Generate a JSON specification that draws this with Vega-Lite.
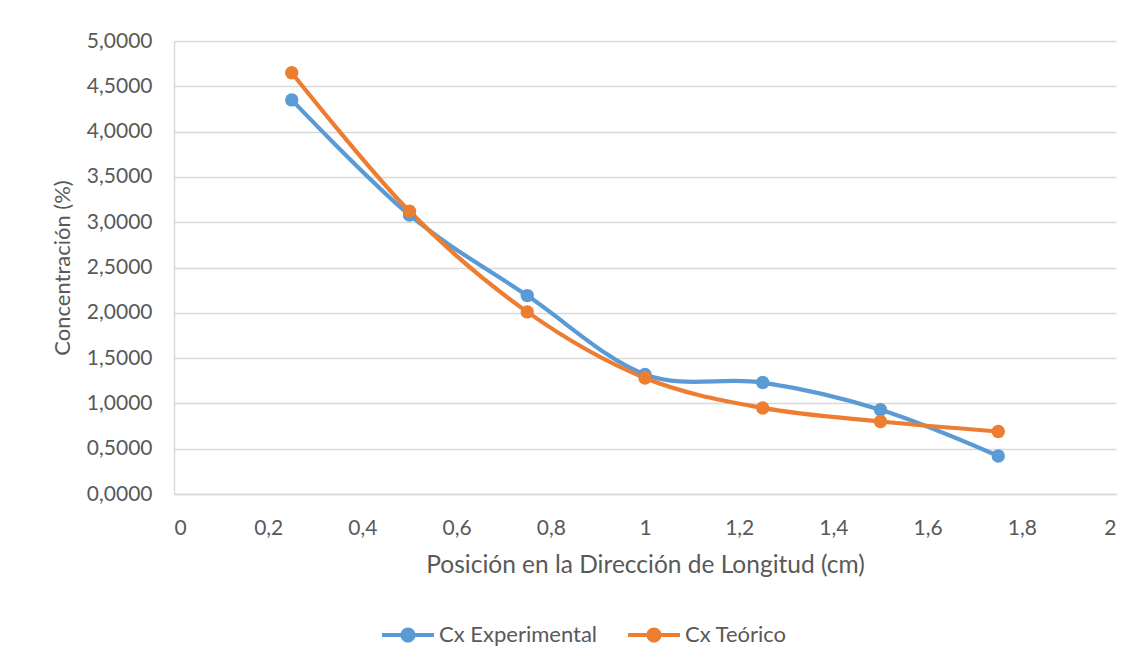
{
  "$schema": "https://vega.github.io/schema/vega-lite/v6.json",
  "autosize": "none",
  "width": 942,
  "height": 453,
  "padding": {"left": 174, "top": 41, "right": 25, "bottom": 175},
  "background": "white",
  "data": {
    "values": [
      {"pos": 0.25, "conc": 4.35, "serie": "Cx Experimental"},
      {"pos": 0.5, "conc": 3.08, "serie": "Cx Experimental"},
      {"pos": 0.75, "conc": 2.19, "serie": "Cx Experimental"},
      {"pos": 1.0, "conc": 1.32, "serie": "Cx Experimental"},
      {"pos": 1.25, "conc": 1.23, "serie": "Cx Experimental"},
      {"pos": 1.5, "conc": 0.93, "serie": "Cx Experimental"},
      {"pos": 1.75, "conc": 0.42, "serie": "Cx Experimental"},
      {"pos": 0.25, "conc": 4.65, "serie": "Cx Teórico"},
      {"pos": 0.5, "conc": 3.12, "serie": "Cx Teórico"},
      {"pos": 0.75, "conc": 2.01, "serie": "Cx Teórico"},
      {"pos": 1.0, "conc": 1.28, "serie": "Cx Teórico"},
      {"pos": 1.25, "conc": 0.95, "serie": "Cx Teórico"},
      {"pos": 1.5, "conc": 0.8, "serie": "Cx Teórico"},
      {"pos": 1.75, "conc": 0.69, "serie": "Cx Teórico"}
    ]
  },
  "encoding": {
    "x": {
      "field": "pos",
      "type": "quantitative",
      "scale": {"domain": [0, 2], "nice": false},
      "axis": {
        "title": "Posición en la Dirección de Longitud (cm)",
        "values": [0, 0.2, 0.4, 0.6, 0.8, 1, 1.2, 1.4, 1.6, 1.8, 2],
        "labelExpr": "replace(format(datum.value, '.1~f'), '.', ',')",
        "grid": false,
        "ticks": false,
        "labelPadding": 23,
        "titlePadding": 15,
        "titleFontSize": 24.5
      }
    },
    "y": {
      "field": "conc",
      "type": "quantitative",
      "scale": {"domain": [0, 5], "nice": false},
      "axis": {
        "title": "Concentración (%)",
        "values": [0, 0.5, 1, 1.5, 2, 2.5, 3, 3.5, 4, 4.5, 5],
        "labelExpr": "replace(format(datum.value, '.4f'), '.', ',')",
        "grid": true,
        "ticks": false,
        "labelPadding": 22,
        "titlePadding": 12,
        "titleFontSize": 22
      }
    },
    "color": {
      "field": "serie",
      "type": "nominal",
      "scale": {"domain": ["Cx Experimental", "Cx Teórico"], "range": ["#5B9BD5", "#ED7D31"]},
      "legend": {
        "title": null,
        "orient": "none",
        "direction": "horizontal",
        "legendX": 208,
        "legendY": 568,
        "symbolType": "M-1,-0.08L1,-0.08L1,0.08L-1,0.08Z M0.29,0A0.29,0.29 0 1,1 -0.29,0A0.29,0.29 0 1,1 0.29,0Z",
        "symbolSize": 2704,
        "symbolStrokeWidth": 0,
        "symbolOpacity": 1,
        "labelOffset": 5,
        "columnPadding": 30,
        "labelFontSize": 22,
        "labelColor": "#595959",
        "labelFont": "Lato"
      }
    }
  },
  "layer": [
    {
      "mark": {"type": "line", "interpolate": "cardinal", "tension": 0, "strokeWidth": 4.2, "strokeCap": "round"}
    },
    {
      "mark": {"type": "point", "filled": true, "size": 180, "opacity": 1}
    }
  ],
  "config": {
    "view": {"stroke": null},
    "font": "Lato",
    "axis": {
      "labelFont": "Lato",
      "labelFontSize": 21,
      "labelColor": "#595959",
      "titleFont": "Lato",
      "titleFontWeight": "normal",
      "titleColor": "#595959",
      "domainColor": "#D9D9D9",
      "domainWidth": 1.5,
      "gridColor": "#D9D9D9",
      "gridWidth": 1.3
    }
  }
}
